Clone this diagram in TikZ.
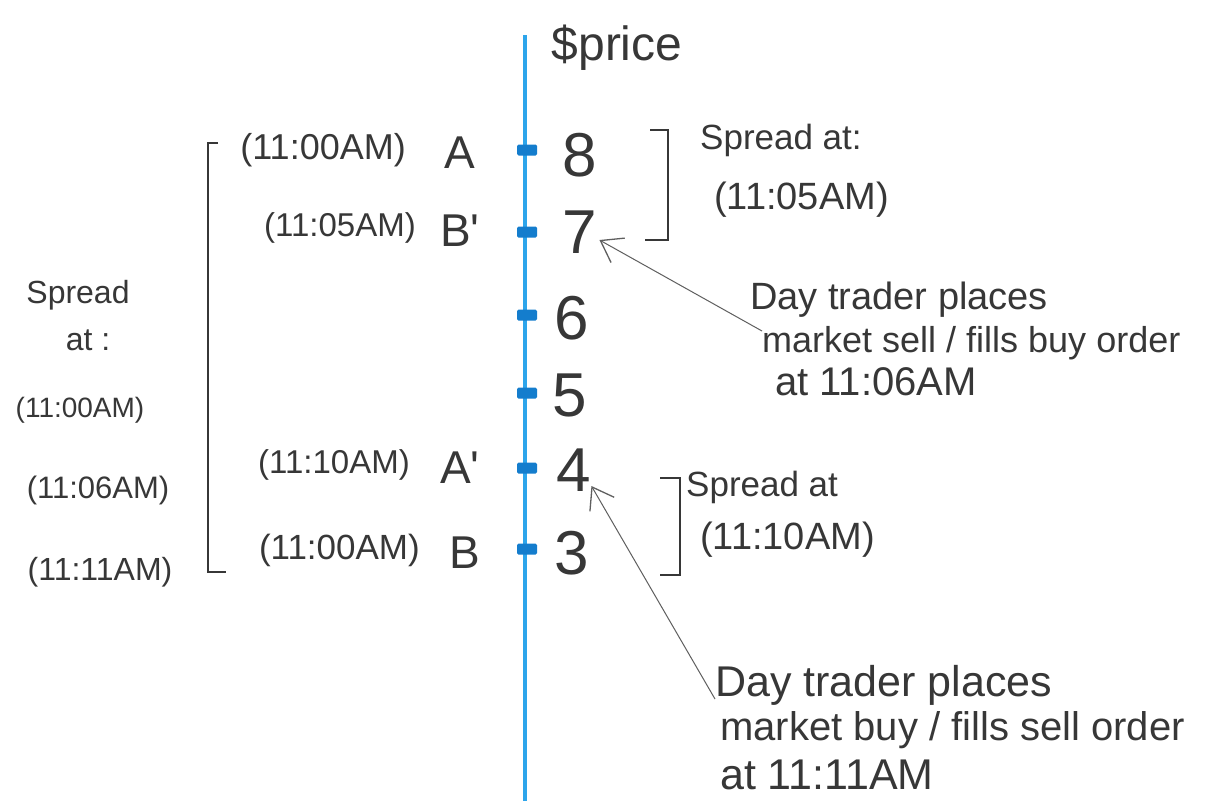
\documentclass[tikz,border=0pt]{standalone}
\usepackage{fontspec}
\setmainfont{Liberation Sans}
\usetikzlibrary{arrows.meta}
\definecolor{axisblue}{RGB}{45,165,235}
\definecolor{tickblue}{RGB}{20,125,205}
\definecolor{ink}{RGB}{55,55,55}
\begin{document}
\begin{tikzpicture}[x=1pt,y=-1pt,
  txt/.style={text=ink, inner sep=0pt, anchor=west, font=\fontsize{#1}{#1}\selectfont},
  txt/.default=34,
  lab/.style={text=ink, inner sep=0pt, font=\fontsize{#1}{#1}\selectfont},
  lab/.default=36,
  letter/.style={text=ink, inner sep=0pt, font=\fontsize{46}{50}\selectfont},
  num/.style={text=ink, inner sep=2pt, font=\fontsize{62}{66}\selectfont},
  tickmark/.style={fill=tickblue, draw=none, rounded corners=1.5pt, minimum width=20pt, minimum height=11pt, inner sep=0pt},
  axisline/.style={draw=axisblue, line width=4pt},
  bracket/.style={draw=ink, line width=1.3pt},
  arr/.style={draw=ink!80, line width=1pt, -{Straight Barb[length=20pt,width=28pt,line width=1.3pt]}}]
\useasboundingbox (0,0) rectangle (1216,801);
\fill[white] (0,0) rectangle (1216,801);
% axis
\coordinate (axtop) at (525,35);
\coordinate (axbot) at (525,801);
\draw[axisline] (axtop) -- (axbot);
\node[text=ink, inner sep=0pt, font=\fontsize{48}{52}\selectfont] (price) at (617,48) {\$price};
% ticks and numbers
\node[tickmark] (k8) at (527,150) {};
\node[tickmark] (k7) at (527,232) {};
\node[tickmark] (k6) at (527,315) {};
\node[tickmark] (k5) at (527,393) {};
\node[tickmark] (k4) at (527,468) {};
\node[tickmark] (k3) at (527,549) {};
\node[num] (n8) at (580,155) {8};
\node[num] (n7) at (580,232) {7};
\node[num] (n6) at (572,318) {6};
\node[num] (n5) at (570,395) {5};
\node[num] (n4) at (574,470) {4};
\node[num] (n3) at (572,553) {3};
% left labels
\node[lab, anchor=east] (l8) at (406,150) {(11:00AM)};
\node[letter] (A) at (460,153) {A};
\node[lab=33, anchor=east] (l7) at (416,228) {(11:05AM)};
\node[letter] (Bp) at (460,231) {B\textquotesingle};
\node[lab=33, anchor=east] (l4) at (410,465) {(11:10AM)};
\node[letter] (Ap) at (460,468) {A\textquotesingle};
\node[lab=35, anchor=east] (l3) at (420,550) {(11:00AM)};
\node[letter] (B) at (465,553) {B};
% big left bracket
\coordinate (lbt) at (218,143);
\coordinate (lbtc) at (208,143);
\coordinate (lbbc) at (208,572);
\coordinate (lbb) at (226,572);
\draw[bracket] (lbt) -- (lbtc) -- (lbbc) -- (lbb);
% left spread column
\node[lab=32] (ls1) at (78,295) {Spread};
\node[lab=32] (ls2) at (88,340) {at :};
\node[lab=28] (ls3) at (80,410) {(11:00AM)};
\node[lab=31] (ls4) at (98,490) {(11:06AM)};
\node[lab=32] (ls5) at (100,572) {(11:11AM)};
% top right bracket
\coordinate (rtt) at (650,130);
\coordinate (rttc) at (668,130);
\coordinate (rtbc) at (668,240);
\coordinate (rtb) at (645,240);
\draw[bracket] (rtt) -- (rttc) -- (rtbc) -- (rtb);
\node[txt=35] (s1a) at (700,140) {Spread at:};
\node[txt=38] (s1b) at (714,200) {(11:05AM)};
% bottom right bracket
\coordinate (rbt) at (660,478);
\coordinate (rbtc) at (680,478);
\coordinate (rbbc) at (680,575);
\coordinate (rbb) at (660,575);
\draw[bracket] (rbt) -- (rbtc) -- (rbbc) -- (rbb);
\node[txt=35] (s2a) at (686,487) {Spread at};
\node[txt=38] (s2b) at (700,540) {(11:10AM)};
% text block 1
\node[txt=38] (t1a) at (750,300) {Day trader places};
\node[txt=36] (t1b) at (762,343) {market sell / fills buy order};
\node[txt=40] (t1c) at (775,382) {at 11:06AM};
% text block 2
\node[txt=43] (t2a) at (715,685) {Day trader places};
\node[txt=40] (t2b) at (720,730) {market buy / fills sell order};
\node[txt=43] (t2c) at (720,775) {at 11:11AM};
% arrows
\draw[arr] ([yshift=12pt]t1b.west) -- ([yshift=-8pt]n7.east);
\draw[arr] ([yshift=-14pt]t2a.west) -- ([xshift=-2pt,yshift=-16pt]n4.east);
\end{tikzpicture}
\end{document}
